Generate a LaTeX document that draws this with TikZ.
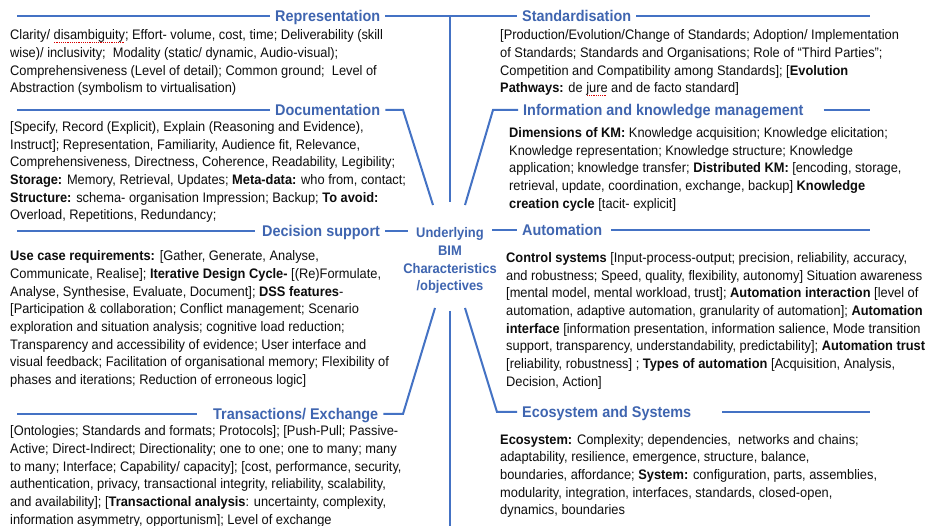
\documentclass[tikz,border=0pt]{standalone}
\usepackage{fontspec}
\setmainfont{Liberation Sans}[FakeStretch=0.93]
\usepackage{xcolor}
\definecolor{hblue}{HTML}{3F65B0}
\definecolor{lblue}{HTML}{4472C4}
\definecolor{bodyc}{HTML}{0D0D0D}
\newsavebox\spellbox
\newcommand\spellmark[1]{\sbox\spellbox{#1}\rlap{\color{red!85!black}\raisebox{-3.2pt}{\hbox to \wd\spellbox{\leaders\hbox to 2.2pt{\hss\rule{1.1pt}{1.1pt}\hss}\hfill}}}\usebox\spellbox}
\tikzset{
  head/.style={anchor=west, inner xsep=5pt, inner ysep=0pt, text height=11pt, text depth=0pt,
    font=\bfseries\fontsize{15.5}{18}\selectfont, text=hblue},
  body/.style={anchor=north west, inner sep=0pt, align=left,
    font=\fontsize{13.8}{17.7}\selectfont, text=bodyc},
  core/.style={anchor=north, inner sep=0pt, align=center,
    font=\bfseries\fontsize{13.9}{17.7}\selectfont, text=hblue},
  conn/.style={draw=lblue, line width=2pt},
}
\begin{document}
\begin{tikzpicture}[x=1pt,y=-1pt]
\path[use as bounding box, fill=white] (0,0) rectangle (930,526);

% headings
\node[head] (rep) at (270,16) {Representation};
\node[head] (std) at (517,16) {Standardisation};
\node[head] (doc) at (270,110) {Documentation};
\node[head] (info) at (518,110) {Information and knowledge management};
\node[head] (ds) at (257,231) {Decision support};
\node[head] (auto) at (517,230) {Automation};
\node[head] (trans) at (208,414) {Transactions/ Exchange};
\node[head] (eco) at (517,412) {Ecosystem and Systems};

% centre
\node[core] (centre) at (450,227.5) {Underlying\\BIM\\Characteristics\\/objectives};

% free ends
\coordinate (Lrep) at (17,16);
\coordinate (Rstd) at (870,16);
\coordinate (topj) at (450,16);
\coordinate (ctop) at (450,202);
\coordinate (Ldoc) at (17,110);
\coordinate (dock) at (403,110);
\coordinate (docend) at (433,205);
\coordinate (infok) at (493,110);
\coordinate (infoend) at (465,205);
\coordinate (Rinfo) at (870,110);
\coordinate (Lds) at (17,231);
\coordinate (dsj) at (408,231);
\coordinate (autoj) at (492,230);
\coordinate (Rauto) at (870,230);
\coordinate (Ltrans) at (17,414);
\coordinate (transk) at (403,414);
\coordinate (transend) at (435,308);
\coordinate (ecok) at (497,412);
\coordinate (ecoend) at (465,308);
\coordinate (Reco) at (870,412);
\coordinate (cbot) at (450,311);
\coordinate (bottom) at (450,526);

% connectors
\draw[conn] (Lrep) -- (rep.west);
\draw[conn] (rep.east) -- (std.west);
\draw[conn] (std.east) -- (Rstd);
\draw[conn] (topj) -- (ctop);
\draw[conn] (Ldoc) -- (doc.west);
\draw[conn] (doc.east) -- (dock) -- (docend);
\draw[conn] (info.west) -- (infok) -- (infoend);
\draw[conn] ([xshift=15pt]info.east) -- (Rinfo);
\draw[conn] (Lds) -- ([xshift=-2pt]ds.west);
\draw[conn] (ds.east) -- (dsj);
\draw[conn] (autoj) -- (auto.west);
\draw[conn] ([xshift=4pt]auto.east) -- (Rauto);
\draw[conn] (Ltrans) -- ([xshift=-11pt]trans.west);
\draw[conn] (trans.east) -- (transk) -- (transend);
\draw[conn] (eco.west) -- (ecok) -- (ecoend);
\draw[conn] ([xshift=26pt]eco.east) -- (Reco);
\draw[conn] (cbot) -- (bottom);

% bodies
\node[body] (repb) at (10,29.5) {Clarity/ \spellmark{disambiguity}; Effort- volume, cost, time; Deliverability (skill\\
wise)/ inclusivity;\ \ Modality (static/ dynamic, Audio-visual);\\
Comprehensiveness (Level of detail); Common ground;\ \ Level of\\
Abstraction (symbolism to virtualisation)};

\node[body] (stdb) at (500,29.5) {[Production/Evolution/Change of Standards; Adoption/ Implementation\\
of Standards; Standards and Organisations; Role of “Third Parties”;\\
Competition and Compatibility among Standards]; [\textbf{Evolution}\\
\textbf{Pathways:} de \spellmark{jure} and de facto standard]};

\node[body] (docb) at (10,121.2) {[Specify, Record (Explicit), Explain (Reasoning and Evidence),\\
Instruct]; Representation, Familiarity, Audience fit, Relevance,\\
Comprehensiveness, Directness, Coherence, Readability, Legibility;\\
\textbf{Storage:} Memory, Retrieval, Updates; \textbf{Meta-data:} who from, contact;\\
\textbf{Structure:} schema- organisation Impression; Backup; \textbf{To avoid:}\\
Overload, Repetitions, Redundancy;};

\node[body] (infob) at (509,127.2) {\textbf{Dimensions of KM:} Knowledge acquisition; Knowledge elicitation;\\
Knowledge representation; Knowledge structure; Knowledge\\
application; knowledge transfer; \textbf{Distributed KM:} [encoding, storage,\\
retrieval, update, coordination, exchange, backup] \textbf{Knowledge}\\
\textbf{creation cycle} [tacit- explicit]};

\node[body] (dsb) at (10,250.6) {\textbf{Use case requirements:} [Gather, Generate, Analyse,\\
Communicate, Realise]; \textbf{Iterative Design Cycle-} [(Re)Formulate,\\
Analyse, Synthesise, Evaluate, Document]; \textbf{DSS features}-\\
{[}Participation \& collaboration; Conflict management; Scenario\\
exploration and situation analysis; cognitive load reduction;\\
Transparency and accessibility of evidence; User interface and\\
visual feedback; Facilitation of organisational memory; Flexibility of\\
phases and iterations; Reduction of erroneous logic]};

\node[body] (autob) at (506,252.2) {\textbf{Control systems} [Input-process-output; precision, reliability, accuracy,\\
and robustness; Speed, quality, flexibility, autonomy] Situation awareness\\
{[}mental model, mental workload, trust]; \textbf{Automation interaction} [level of\\
automation, adaptive automation, granularity of automation]; \textbf{Automation}\\
\textbf{interface} [information presentation, information salience, Mode transition\\
support, transparency, understandability, predictability]; \textbf{Automation trust}\\
{[}reliability, robustness] ; \textbf{Types of automation} [Acquisition, Analysis,\\
Decision, Action]};

\node[body] (transb) at (10,425.6) {[Ontologies; Standards and formats; Protocols]; [Push-Pull; Passive-\\
Active; Direct-Indirect; Directionality; one to one; one to many; many\\
to many; Interface; Capability/ capacity]; [cost, performance, security,\\
authentication, privacy, transactional integrity, reliability, scalability,\\
and availability]; [\textbf{Transactional analysis}: uncertainty, complexity,\\
information asymmetry, opportunism]; Level of exchange};

\node[body] (ecob) at (500,434) {\textbf{Ecosystem:} Complexity; dependencies,\ \ networks and chains;\\
adaptability, resilience, emergence, structure, balance,\\
boundaries, affordance; \textbf{System:} configuration, parts, assemblies,\\
modularity, integration, interfaces, standards, closed-open,\\
dynamics, boundaries};
\end{tikzpicture}
\end{document}
